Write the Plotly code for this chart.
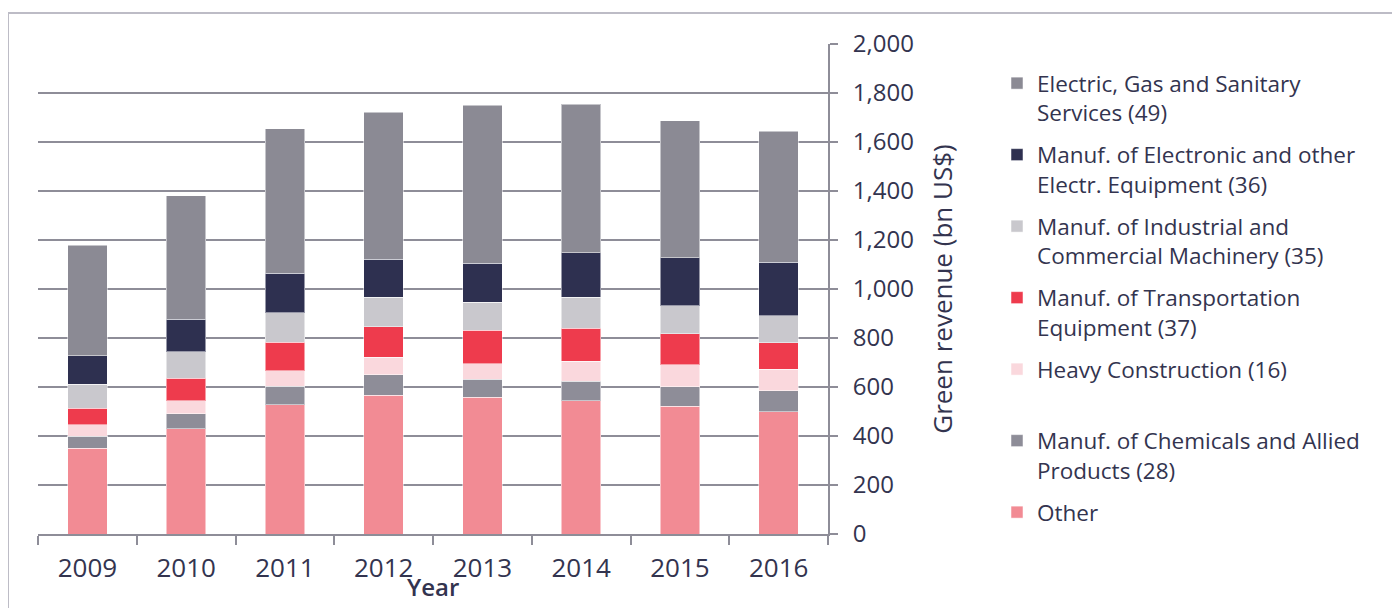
import plotly.graph_objects as go

years = ["2009", "2010", "2011", "2012", "2013", "2014", "2015", "2016"]

other      = [351, 430, 528, 567, 559, 544, 521, 498]
chemicals  = [47, 61, 76, 83, 72, 80, 81, 87]
heavy      = [48, 53, 63, 71, 63, 82, 88, 88]
transport  = [67, 91, 115, 125, 137, 133, 128, 107]
machinery  = [99, 108, 121, 120, 114, 128, 113, 111]
electronic = [115, 133, 161, 155, 160, 180, 197, 218]
electric   = [451, 505, 590, 601, 646, 608, 559, 534]

series = [
    ("Other", other, "#f28b94"),
    ("Manuf. of Chemicals and Allied<br>Products (28)", chemicals, "#8e8d98"),
    ("Heavy Construction (16)<br> ", heavy, "#fad8dd"),
    ("Manuf. of Transportation<br>Equipment (37)", transport, "#ee3b4d"),
    ("Manuf. of Industrial and<br>Commercial Machinery (35)", machinery, "#c9c8cd"),
    ("Manuf. of Electronic and other<br>Electr. Equipment (36)", electronic, "#2e3050"),
    ("Electric, Gas and Sanitary<br>Services (49)", electric, "#8b8a94"),
]

TXT = "#33344f"
GRID = "#8e8d98"
FONT = "Open Sans"

fig = go.Figure()
n = len(series)
for i, (name, vals, col) in enumerate(series):
    fig.add_trace(go.Bar(
        x=years, y=vals, name=name, legendgroup=f"g{i}", legendrank=n - i,
        marker=dict(color=col, line=dict(color="rgba(255,255,255,0.5)", width=1)),
    ))

OFF = 8  # page body margin
L, R, T, B = 38, 828, 44, 534  # screen pixel positions of the plot area
W, H = 1392, 600
pw, ph = R - L, B - T

def px(x):
    return (x - L) / pw

def py(y):
    return (B - y) / ph

fig.update_layout(
    width=W, height=H,
    barmode="stack",
    bargap=0.6,
    plot_bgcolor="white",
    paper_bgcolor="white",
    margin=dict(l=L - OFF, r=W - (R - OFF), t=T - OFF, b=H - (B - OFF), autoexpand=False),
    font=dict(family=FONT, color=TXT),
    showlegend=True,
    legend=dict(
        traceorder="grouped",
        tracegroupgap=10,
        x=px(997), xanchor="left",
        y=py(62), yanchor="top",
        font=dict(size=22.5, color=TXT, family=FONT),
        valign="top",
        bgcolor="rgba(0,0,0,0)",
    ),
    xaxis=dict(
        type="category",
        showline=True, linecolor=GRID, linewidth=2,
        ticks="outside", tickson="boundaries", ticklen=9, tickwidth=2, tickcolor=GRID,
        tickfont=dict(size=26, color=TXT, family=FONT),
        ticklabelstandoff=10,
        showgrid=False,
        automargin=False,
    ),
    yaxis=dict(
        side="right",
        range=[0, 2000], dtick=200, tickformat=",",
        showline=True, linecolor=GRID, linewidth=2,
        ticks="outside", ticklen=8, tickwidth=2, tickcolor=GRID,
        showgrid=True, gridcolor=GRID, gridwidth=2,
        zeroline=False,
        tickfont=dict(size=24, color=TXT, family=FONT),
        ticklabelstandoff=10,
        title=dict(text="Green revenue (bn US$)", font=dict(size=26, color=TXT, family=FONT), standoff=21),
        automargin=False,
    ),
    annotations=[
        dict(text="Year", xref="paper", yref="paper", x=0.5, y=py(604),
             xanchor="center", yanchor="bottom", showarrow=False, borderpad=0,
             font=dict(size=24, color=TXT, family=FONT, weight=600)),
    ],
    shapes=[
        dict(type="line", xref="paper", yref="paper",
             x0=px(8), x1=px(1400), y0=py(13), y1=py(13),
             line=dict(color="#bdbcc6", width=2)),
        dict(type="line", xref="paper", yref="paper",
             x0=px(8), x1=px(8), y0=py(13), y1=py(608),
             line=dict(color="#bdbcc6", width=2)),
    ],
)

fig.write_html("out.html")
